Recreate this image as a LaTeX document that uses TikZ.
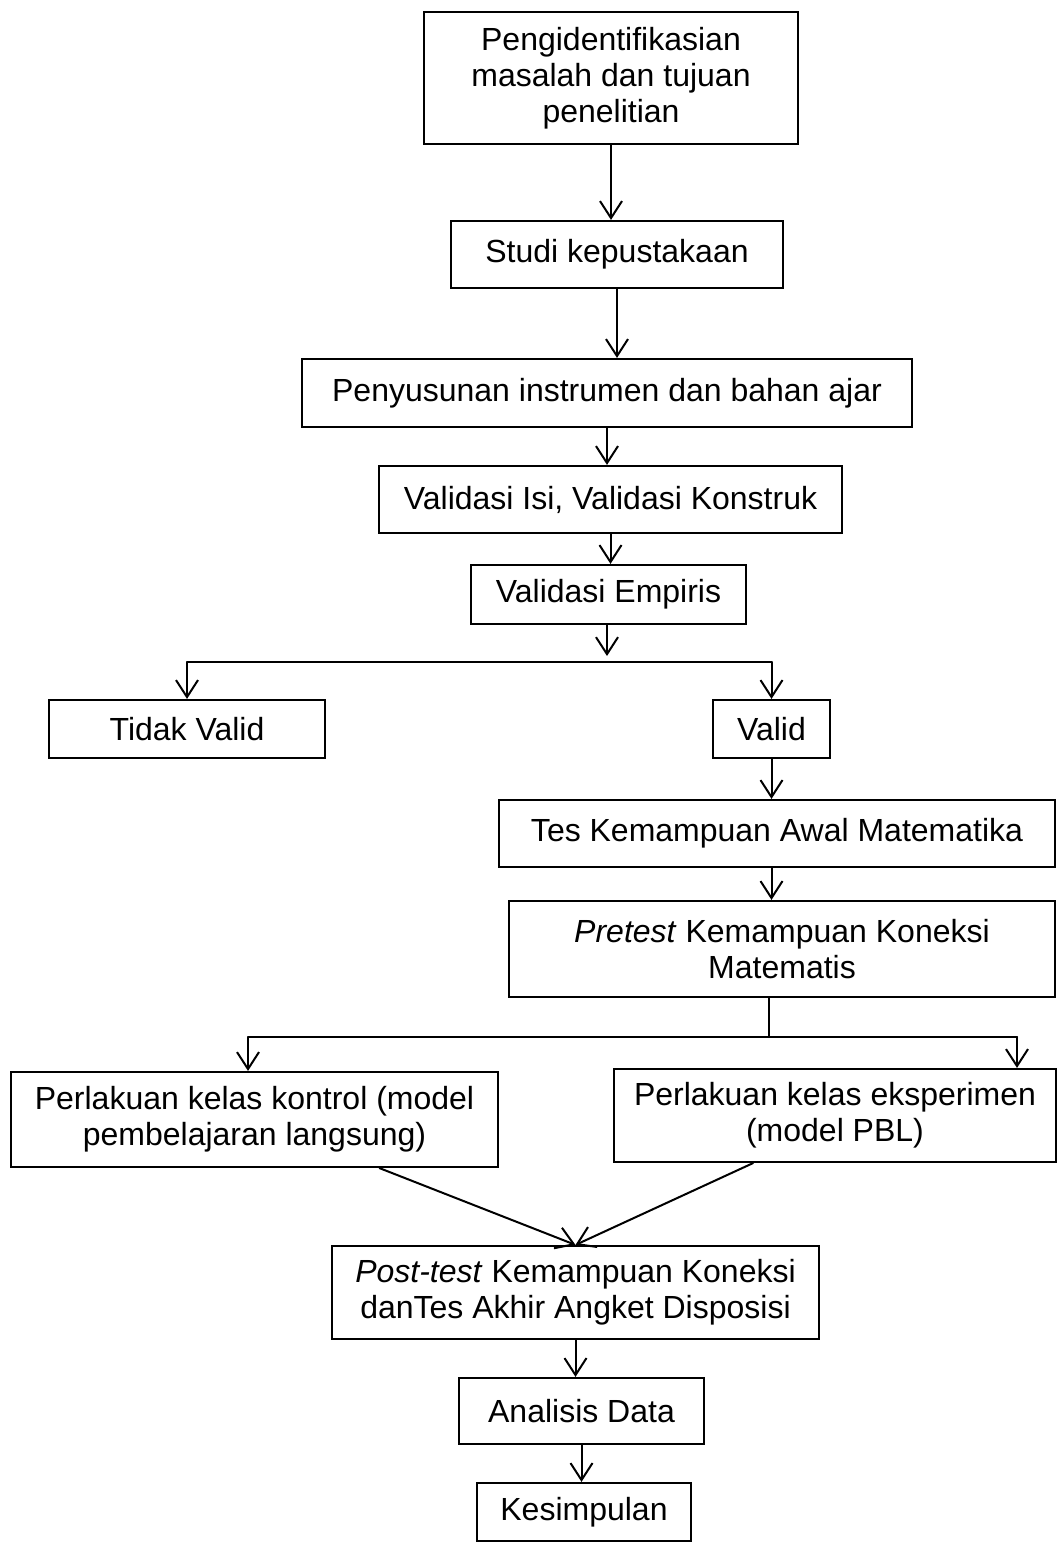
\documentclass[tikz,border=0pt]{standalone}
\usepackage{fontspec}
\setmainfont{Liberation Sans}
\usetikzlibrary{arrows.meta}

\begin{document}
\begin{tikzpicture}[x=1pt,y=-1pt,>={Straight Barb[length=17pt,width=22pt]},line cap=round,
  box/.style={draw,line width=2.2pt,inner sep=0pt,align=center,font=\fontsize{32}{36}\selectfont},
  link/.style={line width=2pt}]
\useasboundingbox (0,0) rectangle (1058,1544);
% boxes
\node[box,minimum width=374pt,minimum height=132pt] (ident) at (611,78) {Pengidentifikasian\\masalah dan tujuan\\penelitian};
\node[box,minimum width=332pt,minimum height=67pt] (studi) at (617,254.5) {Studi kepustakaan};
\node[box,minimum width=610pt,minimum height=68pt] (susun) at (607,393) {Penyusunan instrumen dan bahan ajar};
\node[box,minimum width=463pt,minimum height=67pt] (isi) at (610.5,499.5) {Validasi Isi, Validasi Konstruk};
\node[box,minimum width=275pt,minimum height=59pt] (emp) at (608.5,594.5) {Validasi Empiris};
\node[box,minimum width=276pt,minimum height=58pt] (tidak) at (187,729) {Tidak Valid};
\node[box,minimum width=117pt,minimum height=58pt] (valid) at (771.5,729) {Valid};
\node[box,minimum width=556pt,minimum height=67pt] (tes) at (777,833.5) {Tes Kemampuan Awal Matematika};
\node[box,minimum width=546pt,minimum height=96pt] (pre) at (782,949) {\textit{Pretest} Kemampuan Koneksi\\Matematis};
\node[box,minimum width=487pt,minimum height=95pt] (kontrol) at (254.5,1119.5) {Perlakuan kelas kontrol (model\\pembelajaran langsung)};
\node[box,minimum width=442pt,minimum height=93pt] (eksp) at (835,1115.5) {Perlakuan kelas eksperimen\\(model PBL)};
\node[box,minimum width=487pt,minimum height=93pt] (post) at (575.5,1292.5) {\textit{Post-test} Kemampuan Koneksi\\danTes Akhir Angket Disposisi};
\node[box,minimum width=245pt,minimum height=66pt] (anal) at (581.5,1411) {Analisis Data};
\node[box,minimum width=214pt,minimum height=58pt] (simpul) at (584,1512) {Kesimpulan};
% branch points
\coordinate (bv) at (607,662);
\coordinate (bp) at (769,1037);
\coordinate (bk) at (248,1037);
\coordinate (be) at (1017,1037);
% arrows
\draw[link,->] (ident.south) -- (ident.south |- studi.north);
\draw[link,->] (studi.south) -- (studi.south |- susun.north);
\draw[link,->] (susun.south) -- (susun.south |- isi.north);
\draw[link,->] (isi.south) -- (isi.south |- emp.north);
\draw[link,->,shorten >=6pt] (emp.south -| bv) -- (bv);
\draw[link] (tidak.north |- bv) -- (valid.north |- bv);
\draw[link,->] (tidak.north |- bv) -- (tidak.north);
\draw[link,->] (valid.north |- bv) -- (valid.north);
\draw[link,->] (valid.south) -- (valid.south |- tes.north);
\draw[link,->] (valid.south |- tes.south) -- (valid.south |- pre.north);
\draw[link] (bp |- pre.south) -- (bp);
\draw[link] (bk) -- (be);
\draw[link,->] (bk) -- (bk |- kontrol.north);
\draw[link,->] (be) -- (be |- eksp.north);
\draw[link,->] ([xshift=125pt]kontrol.south) -- (post.north);
\draw[link,->] ([xshift=-82pt]eksp.south) -- (post.north);
\draw[link,->] (post.south) -- (post.south |- anal.north);
\draw[link,->] (anal.south) -- (anal.south |- simpul.north);
\end{tikzpicture}
\end{document}
